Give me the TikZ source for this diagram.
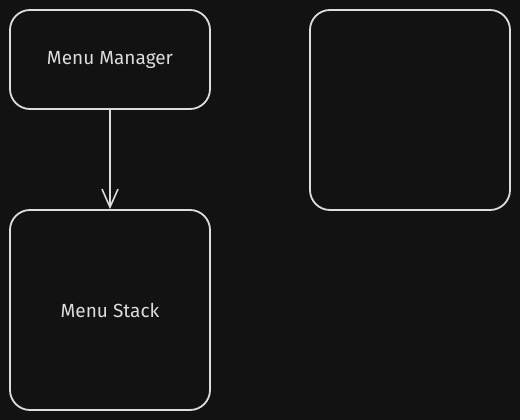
\documentclass[tikz,border=0pt]{standalone}
\usepackage{fontspec}
\setmainfont{Fira Sans}
\usetikzlibrary{arrows.meta}
\definecolor{bg}{HTML}{121212}
\definecolor{ink}{HTML}{DCDCDC}
\tikzset{
  box/.style={draw=ink, line width=1.8pt, rounded corners=20pt, text=ink, font=\fontsize{19}{22}\selectfont},
  conn/.style={draw=ink, line width=1.8pt, -{Straight Barb[length=18pt,width=16pt,line width=1.6pt]}}
}
\begin{document}
\begin{tikzpicture}[x=1pt,y=-1pt]
\fill[bg] (0,0) rectangle (520,420);
\useasboundingbox (0,0) rectangle (520,420);
\node[box, minimum width=200pt, minimum height=99pt, inner sep=0pt] (mgr) at (110,59.5) {Menu Manager};
\node[box, minimum width=200pt, minimum height=200pt, inner sep=0pt] (stack) at (110,310) {Menu Stack};
\node[box, minimum width=200pt, minimum height=200pt, inner sep=0pt] (empty) at (410,110) {};
\draw[conn] (mgr.south) -- (stack.north);
\end{tikzpicture}
\end{document}
